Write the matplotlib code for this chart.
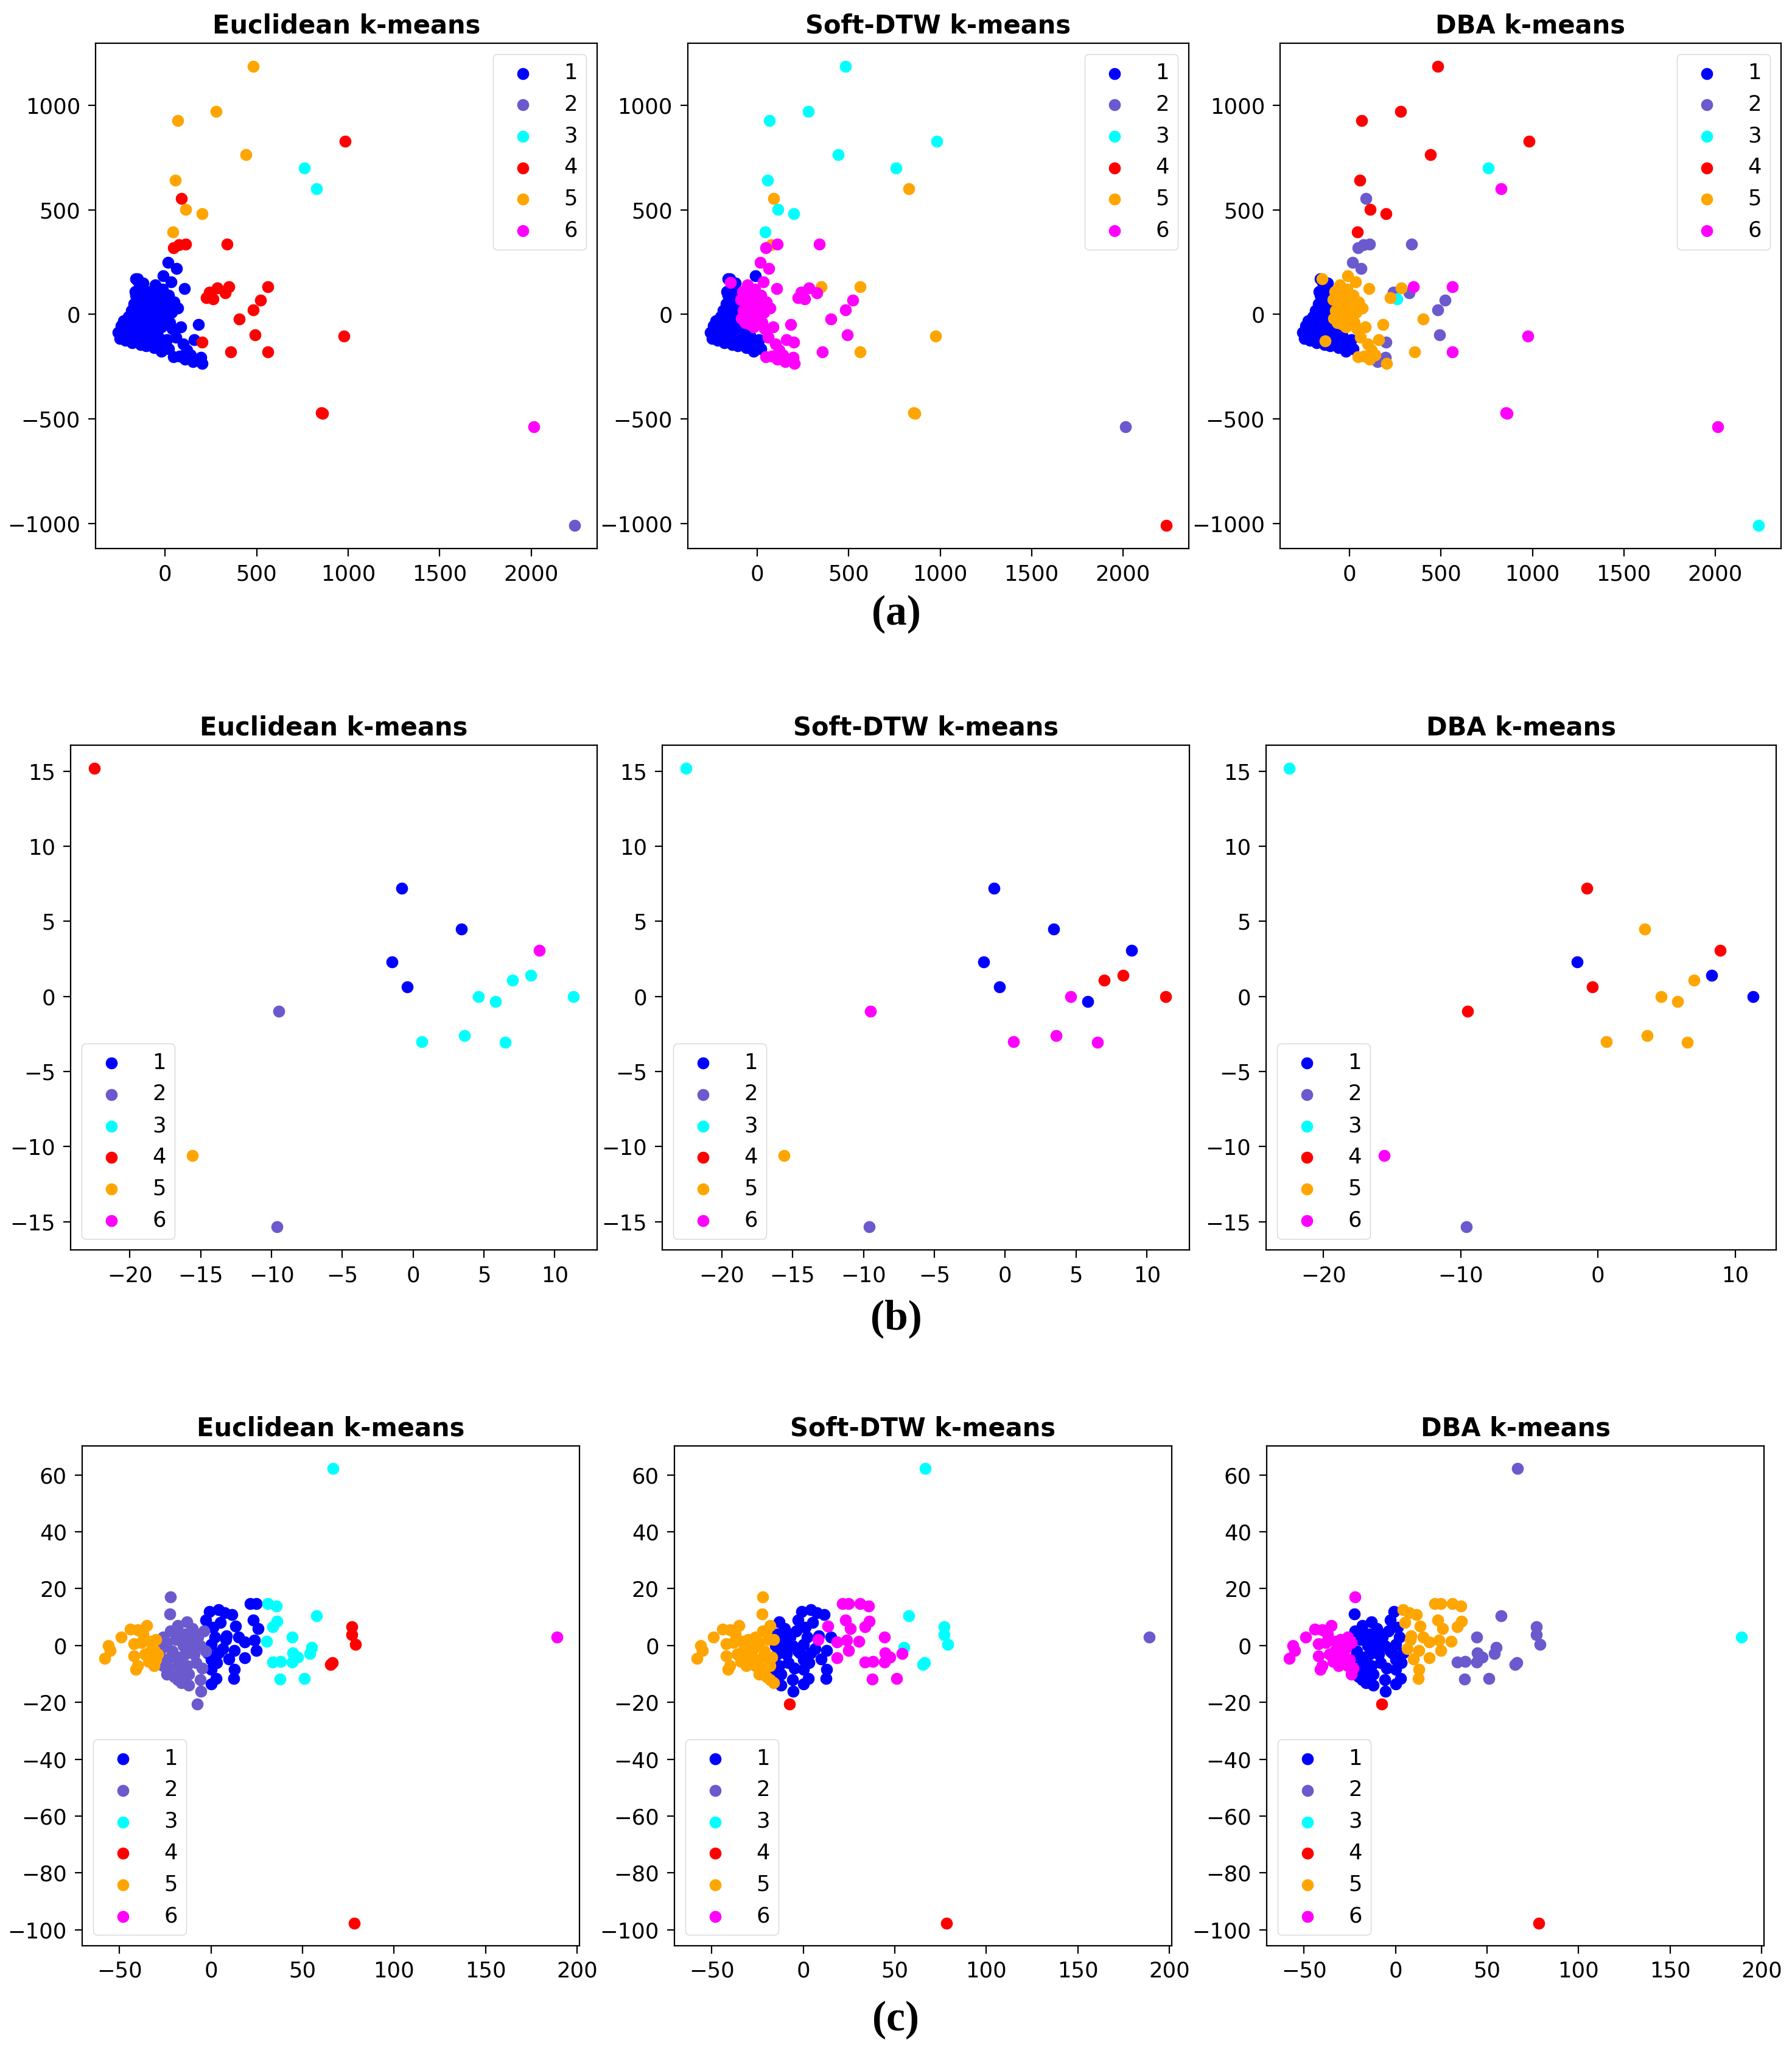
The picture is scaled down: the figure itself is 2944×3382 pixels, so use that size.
import numpy as np
import matplotlib
matplotlib.use("Agg")
import matplotlib.pyplot as plt

# ============================================================
# 数据 (从图中读取的近似坐标)
# ============================================================
METHODS = ["Euclidean k-means", "Soft-DTW k-means", "DBA k-means"]
CLUSTERS = ["1", "2", "3", "4", "5", "6"]
COLORS = ["blue", "slateblue", "cyan", "red", "orange", "magenta"]

# ---- (a) ----
a_x = ([483, 280, 68, 442, 983, 759, 827, 56, 90, 113, 201, 43, 47, 75, 111, 338, 562, 348,
        284, 241, 327, 224, 261, 521, 483, 404, 491, 976, 201, 357, 562, 855, 862, 2015, 2235]
       + [-255, -245, -240, -230, -225, -215, -210, -200, -198, -190, -185, -180, -175, -170, -165,
          -160, -155, -150, -148, -140, -135, -130, -125, -120, -115, -110, -160, -120, -105, -100]
       + [-235, -220, -205, -195, -180, -170, -160, -150, -140, -135,
          -125, -115, -110, -100, -95, -180, -165, -145, -130, -210]
       + [-150, -134, -145]
       + [-90, -80, -70, -60, -55, -45, -35, -25, -15, -5, 5, 20, 35, 50, 70]
       + [-75, -65, -50, -40, -30, -20, -10, 0, 10, 25, -85]
       + [-11, 32, 107, 15, 64]
       + [-80, -60, -40, -20, 0, 20, -30, -90, -70, -50, -10, 10]
       + [40, 60, 85, 100, 120, 140, 160, 182, 197, 154, 203, 47, 80, 110])
a_y = ([1186, 970, 925, 764, 827, 700, 600, 642, 555, 503, 480, 394, 319, 334, 336, 336, 133, 133,
        126, 107, 103, 81, 75, 69, 23, -23, -98, -103, -133, -178, -178, -469, -474, -538, -1009]
       + [-85, -115, -55, -95, -30, -125, -70, -10, -105, -45, 20, -135, -80, 50, -20,
          90, -110, -55, 15, 120, -145, -25, 45, -95, 80, -60, 170, 150, -150, 10]
       + [-75, -110, -50, -85, -15, -110, -60, -5, 40, -80,
          5, -130, 100, -20, -90, -60, 110, 75, 130, -95]
       + [169, -128, 153]
       + [70, 110, -10, 40, 140, -45, 85, 0, 120, 50, -30, 90, 10, 60, 30]
       + [20, -40, 90, 0, 40, -60, 80, -10, 20, -40, -20]
       + [184, 154, 122, 248, 219]
       + [-120, -160, -100, -175, -130, -165, -140, -60, -80, -130, -150, -120]
       + [-70, -110, -60, -140, -170, -195, -120, -49, -206, -225, -234, -203, -200, -215])
a_euc = ("55554 33545 55444 44444 44444 44444 44462"
         "11111 11111 11111 11111 11111 11111" "11111 11111 11111 11111" "111"
         "11111 11111 11111" "11111 11111 1" "11111" "11111 11111 11" "11111 11111 1111")
a_sdtw = ("33333 35353 33656 65566 66666 66566 55524"
          "11111 11111 11111 11111 11111 11111" "11111 11111 11111 11111" "116"
          "66666 66666 66666" "66666 66666 6" "16666" "11111 11111 11" "66666 66666 6666")
a_dba = ("44444 36424 44222 26652 25322 52625 66663"
         "11111 11111 11111 11111 11111 11111" "11111 11111 11111 11111" "551"
         "55555 55555 55555" "55555 55555 5" "55522" "11111 11111 11" "55555 55522 5555")

# ---- (b) ----
b_x = [-22.5, -0.8, 3.4, -1.5, -0.4, 8.9, 8.3, 7.0, 4.6, 5.8, 11.3, 0.6, 3.6, 6.5, -9.5, -9.6, -15.6]
b_y = [15.2, 7.2, 4.5, 2.3, 0.65, 3.05, 1.4, 1.1, 0.0, -0.35, 0.0, -3.0, -2.6, -3.05, -1.0, -15.35, -10.6]
b_euc = "41111 63333 33332 25"
b_sdtw = "31111 14461 46666 25"
b_dba = "34514 41555 15554 26"

# ---- (c) ----
c_x = ([66.8, 189, 78.2, 77, 77, 79, 65.3, 66.2, -7.5, -5.4, -22, -22.6, -13]
       + [31, 35.6, 57.8, 36, 33.8, 30.4, 44.4, 55, 53.9, 44.8, 47.4, 44.4, 33.8, 38.1, 37.7, 51]
       + [-2.8, 4.3, 7.5, 11.6, 21.5, 24.8, 23, 25.9, 13.4, 1, 8.6, 18.3, 23.7, 0, 6.5,
          12.9, 18.3, 0, 9.7, 4.3, 0, 12.9, 2.8, 12.5, 0, 24.8, -2, 8, 15, 5, 2, -1, 3]
       + [-27, -26, -25, -24, -23, -22, -21, -20, -19, -18, -17, -16, -15, -14, -13,
          -12, -11, -10, -9, -8, -7, -6, -5, -4, -3, -26, -20, -18, -14, -10,
          -8, -12, -16, -22, -24, -15, -18, -12, -6]
       + [-58, -56, -55, -49, -44, -40, -42, -42, -41, -35, -38, -36, -33, -31, -30,
          -31, -34, -29, -40, -33, -37, -30])
c_y = ([62.2, 3.0, -97.6, 6.6, 3.8, 0.4, -6.6, -6.0, -20.5, -16.2, 17, 11, 8.3]
       + [14.7, 13.9, 10.5, 8.6, 6.6, 1.5, 3, -0.7, -2.8, -2.5, -4, -5.9, -5.9, -5.5, -11.8, -11.5]
       + [9, 12.7, 11.5, 10.8, 14.7, 14.7, 9, 6, 6.8, 6.3, 3.4, 1.2, 1.9, 0.4, -1,
          -1.8, -4.3, -5, -4.7, -2.5, -8.4, -8.4, -11.7, -11.7, -13.6, -1.8, -2.5, 2, 3, 8, 3, 12, -6]
       + [-1, 3, -5, 1, -8, 5, -2, -11, 2, 7, -4, -13, 0, 4, -7,
          -10, 1, 6, -3, -6, 3, 0, -8, 5, -2, -7, 5, -7, -3, -1,
          4, 3, 2, -4, -10, -9, -12, -14, -12]
       + [-4.5, 0, -1.8, 3, 5.8, 5.5, 0.5, -3.7, -8.3, 7, 1, -3, 1.5, -1.5, -5,
          -7, -5.5, -3, -7, -2, 4, 2])
c_euc = ("36444 44422 222"
         "33333 33333 33333 3"
         "11111 11111 11111 11111 11111 11111 111"
         "22222 22222 22222 22222 22222 22222 22222 2222"
         "55555 55555 55555 55555 55")
c_sdtw = ("32433 33341 551"
          "66366 66366 66666 6"
          "11116 66661 16611 16111 11111 61611 111"
          "55555 55555 55111 11111 11111 55511 11555 1511"
          "55555 55555 55555 55555 55")
c_dba = ("23422 22241 611"
         "55255 52222 22222 2"
         "15555 55551 55515 55151 15151 51555 111"
         "66666 11111 11111 11111 11111 61111 11116 1111"
         "66666 66666 66666 66666 66")

ROWS = [
    ("(a)", a_x, a_y, [a_euc, a_sdtw, a_dba], "upper right"),
    ("(b)", b_x, b_y, [b_euc, b_sdtw, b_dba], "lower left"),
    ("(c)", c_x, c_y, [c_euc, c_sdtw, c_dba], "lower left"),
]

# 各子图在画布中的像素位置 (left, right, top, bottom)
W, H = 2944, 3382
AX_BOX = [
    [(157, 981, 71, 901), (1130, 1953, 71, 901), (2103, 2926, 71, 901)],
    [(116, 981, 1224, 2053), (1088, 1954, 1224, 2053), (2080, 2918, 1224, 2053)],
    [(135, 952, 2375, 3196), (1108, 1925, 2375, 3196), (2081, 2898, 2375, 3196)],
]
LABEL_Y = [1009, 2166, 3318]


def to_labels(s):
    return np.array([int(ch) for ch in s.replace(" ", "")])


# ============================================================
# 绘图
# ============================================================
plt.rcParams.update({
    "font.family": "DejaVu Sans",
    "axes.linewidth": 1.6,
    "xtick.major.size": 9, "ytick.major.size": 9,
    "xtick.major.width": 1.6, "ytick.major.width": 1.6,
    "xtick.major.pad": 9, "ytick.major.pad": 9,
    "xtick.labelsize": 25.5, "ytick.labelsize": 25.5,
})

fig = plt.figure(figsize=(W / 100, H / 100), dpi=100)

for r, (tag, xs, ys, labsets, loc) in enumerate(ROWS):
    xs = np.array(xs, dtype=float)
    ys = np.array(ys, dtype=float)
    for c, (method, labstr) in enumerate(zip(METHODS, labsets)):
        lab = to_labels(labstr)
        assert len(lab) == len(xs), (tag, method, len(lab), len(xs))
        l, rt, t, b = AX_BOX[r][c]
        ax = fig.add_axes([l / W, 1 - b / H, (rt - l) / W, (b - t) / H])
        for k, (name, col) in enumerate(zip(CLUSTERS, COLORS), start=1):
            m = lab == k
            ax.scatter(xs[m], ys[m], s=200, c=col, label=name, linewidths=0)
        ax.set_title(method, fontsize=30, fontweight="bold", pad=12)
        ax.legend(loc=loc, fontsize=25.5, handletextpad=0.9)
    fig.text(0.5, 1 - LABEL_Y[r] / H, tag, ha="center", va="center",
             fontsize=50, fontweight="bold", family=["Liberation Serif", "DejaVu Serif"])

fig.savefig("out.png", dpi=100)
